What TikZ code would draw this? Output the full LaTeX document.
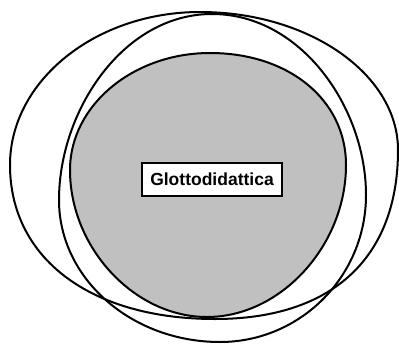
\documentclass[tikz,border=0pt]{standalone}
\usepackage{fontspec}
\setmainfont{Liberation Sans}
\definecolor{greyfill}{RGB}{192,192,192}
\begin{document}
\begin{tikzpicture}[x=1pt,y=-1pt,
  ring/.style={draw=black,line width=2pt},
  core/.style={draw=black,line width=2pt,fill=greyfill},
  labelbox/.style={draw=black,line width=2pt,fill=white,minimum width=140pt,minimum height=33pt,inner sep=0pt,font=\bfseries\fontsize{17.5}{20}\selectfont}]
\useasboundingbox (0,0) rectangle (399,343);
% grey core
\path[core] (70,170) .. controls (70,105.6) and (133,53) .. (210,53)
  .. controls (289,53) and (346,100) .. (346,165)
  .. controls (346,245.6) and (280.7,317) .. (207,317)
  .. controls (134.4,317) and (70,247.9) .. cycle;
% wide ring A
\path[ring] (10,165) .. controls (10,80.9) and (95.5,12) .. (200,12)
  .. controls (308.9,12) and (398,74.1) .. (398,150)
  .. controls (398,258) and (332,319) .. (215,319)
  .. controls (90,319) and (10,258) .. cycle;
% tall ring B
\path[ring] (59,200) .. controls (59,110.7) and (123.3,14) .. (212,14)
  .. controls (301.3,14) and (366,108) .. (366,195)
  .. controls (366,276.4) and (300.3,342) .. (220,342)
  .. controls (131.45,342) and (59,278.65) .. cycle;
\node[labelbox] (label) at (212,179.5) {Glottodidattica};
\end{tikzpicture}
\end{document}
